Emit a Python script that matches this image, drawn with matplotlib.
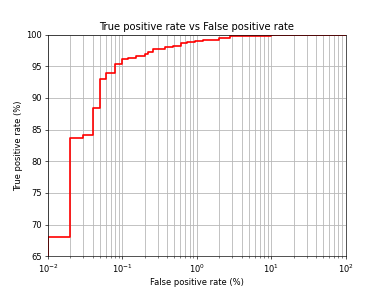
import matplotlib
matplotlib.use("Agg")
import matplotlib.pyplot as plt

# False positive rate (%) breakpoints and True positive rate (%) values (step, post)
fpr = [0.01, 0.01, 0.02, 0.03, 0.04, 0.05, 0.06, 0.08, 0.10, 0.12, 0.15, 0.20, 0.22,
       0.26, 0.37, 0.48, 0.62, 0.73, 0.95, 1.2, 2.0, 2.8, 3.5, 10, 30, 100]
tpr = [65.0, 68.0, 83.7, 84.2, 88.4, 93.0, 94.0, 95.3, 96.1, 96.3, 96.6, 96.9, 97.3,
       97.7, 98.0, 98.25, 98.6, 98.8, 99.0, 99.2, 99.4, 99.7, 99.8, 99.9, 100.0, 100.0]

fig, ax = plt.subplots(figsize=(6.4, 4.8), dpi=60)
ax.step(fpr, tpr, where='post', color='red', linewidth=2.0)
ax.set_xscale('log')
ax.set_xlim(1e-2, 1e2)
ax.set_ylim(65, 100)
ax.grid(True, which='both', color='#b8b8b8', linewidth=1.0)
ax.set_title('True positive rate vs False positive rate')
ax.set_xlabel('False positive rate (%)')
ax.set_ylabel('True positive rate (%)')
fig.savefig('out.png', dpi=60)
